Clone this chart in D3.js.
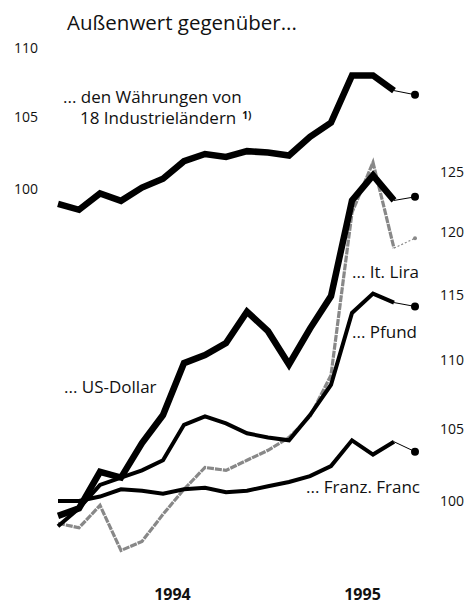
<!DOCTYPE html>
<html>
<head>
<meta charset="utf-8">
<script src="https://cdn.jsdelivr.net/npm/d3@7"></script>
<style>
  body { margin: 0; background: #fff; }
  text { font-family: 'Open Sans', sans-serif; fill: #111; }
</style>
</head>
<body>
<div id="chart"></div>
<script>
// monthly points, index 0..16, plus the latest value (index 17)
const months = d3.range(18);

// left axis (index)
const industrie = [99.0, 98.6, 99.7, 99.2, 100.1, 100.7, 101.9, 102.4, 102.2, 102.6, 102.5, 102.3, 103.6, 104.6, 108.0, 108.0, 106.9, 106.6];

// right axis (index)
const usDollar = [99.0, 99.5, 102.0, 101.6, 104.0, 106.0, 109.8, 110.4, 111.3, 113.7, 112.2, 109.7, 112.4, 114.9, 122.6, 124.7, 122.6, 122.9];
const pfund = [98.3, 99.5, 101.1, 101.6, 102.1, 102.8, 105.3, 105.9, 105.4, 104.7, 104.4, 104.2, 106.0, 108.2, 113.6, 115.1, 114.4, 114.1];
const lira = [98.5, 98.2, 99.7, 96.7, 97.3, 99.1, 100.8, 102.3, 102.1, 102.8, 103.5, 104.4, 105.9, 108.9, 121.6, 125.8, 118.7, 119.5];
const franc = [100.0, 100.0, 100.3, 100.8, 100.7, 100.5, 100.8, 100.9, 100.6, 100.7, 101.0, 101.3, 101.7, 102.4, 104.2, 103.2, 104.1, 103.4];

const leftTicks = [100, 105, 110];
const rightTicks = [100, 105, 110, 115, 120, 125];
const years = [{ label: '1994', pos: 5.45 }, { label: '1995', pos: 14.5 }];

let width = 465,
    height = 606;

let svg = d3.select('#chart')
    .append('svg')
    .attr('width', width)
    .attr('height', height);

// Scales (both axes logarithmic, same ratio per pixel)
const k = 1475;
let xScale = d3.scaleLinear()
    .domain([0, 17])
    .range([58, 415]);

let yLeft = d3.scaleLog()
    .domain([100, 110])
    .range([189, 189 - k * Math.log(1.1)]);

let yRight = d3.scaleLog()
    .domain([100, 125])
    .range([501, 501 - k * Math.log(1.25)]);

// Title
svg.append('text')
    .attr('x', 67)
    .attr('y', 30)
    .style('font-size', '20.5px')
    .text('Außenwert gegenüber...');

// Axes
let leftAxis = svg.append('g')
    .attr('transform', 'translate(38,0)')
    .call(d3.axisLeft(yLeft).tickValues(leftTicks).tickSize(0).tickPadding(0).tickFormat(d3.format('d')));

let rightAxis = svg.append('g')
    .attr('transform', 'translate(440,0)')
    .call(d3.axisRight(yRight).tickValues(rightTicks).tickSize(0).tickPadding(0).tickFormat(d3.format('d')));

[leftAxis, rightAxis].forEach(function(ax) {
    ax.select('.domain').remove();
    ax.selectAll('text')
        .style('font-family', "'Open Sans', sans-serif")
        .style('font-size', '14px')
        .attr('fill', '#111');
});

// Year labels
svg.selectAll('.year')
    .data(years)
    .enter()
    .append('text')
    .attr('class', 'year')
    .attr('x', d => xScale(d.pos))
    .attr('y', 600)
    .style('text-anchor', 'middle')
    .style('font-size', '16px')
    .style('font-weight', 'bold')
    .text(d => d.label);

// Series
const series = [
    { values: lira, y: yRight, color: '#888', width: 3.2, dash: '7,1', last: 'dash' },
    { values: franc, y: yRight, color: '#000', width: 4 },
    { values: pfund, y: yRight, color: '#000', width: 4 },
    { values: usDollar, y: yRight, color: '#000', width: 6.5 },
    { values: industrie, y: yLeft, color: '#000', width: 6.5 }
];

series.forEach(function(s) {
    const pts = months.map(i => [xScale(i), s.y(s.values[i])]);
    const line = d3.line();

    // monthly part
    svg.append('path')
        .attr('d', line(pts.slice(0, 17)))
        .attr('fill', 'none')
        .attr('stroke', s.color)
        .attr('stroke-width', s.width)
        .attr('stroke-dasharray', s.dash || null)
        .attr('stroke-linejoin', 'miter')
        .attr('stroke-miterlimit', 10);

    // latest value
    svg.append('path')
        .attr('d', line(pts.slice(16)))
        .attr('fill', 'none')
        .attr('stroke', s.color)
        .attr('stroke-width', s.last === 'dash' ? 1.2 : 1)
        .attr('stroke-dasharray', s.last === 'dash' ? '2,2' : null);

    svg.append('circle')
        .attr('cx', pts[17][0])
        .attr('cy', pts[17][1])
        .attr('r', s.last === 'dash' ? 2 : 4)
        .attr('fill', s.color);
});

// Series labels
const labels = [
    { text: '... den Währungen von', x: 63, y: 103 },
    { text: '18 Industrieländern', x: 80, y: 124, note: '1)' },
    { text: '... It. Lira', x: 352, y: 278 },
    { text: '... Pfund', x: 352, y: 338 },
    { text: '... US-Dollar', x: 64, y: 393 },
    { text: '... Franz. Franc', x: 306, y: 493 }
];

labels.forEach(function(l) {
    let t = svg.append('text')
        .attr('x', l.x)
        .attr('y', l.y)
        .style('font-size', '17px')
        .text(l.text);
    if (l.note) {
        t.append('tspan')
            .attr('dx', 6)
            .attr('dy', -5)
            .style('font-size', '10px')
            .style('font-weight', 'bold')
            .text(l.note);
    }
});
</script>
</body>
</html>
